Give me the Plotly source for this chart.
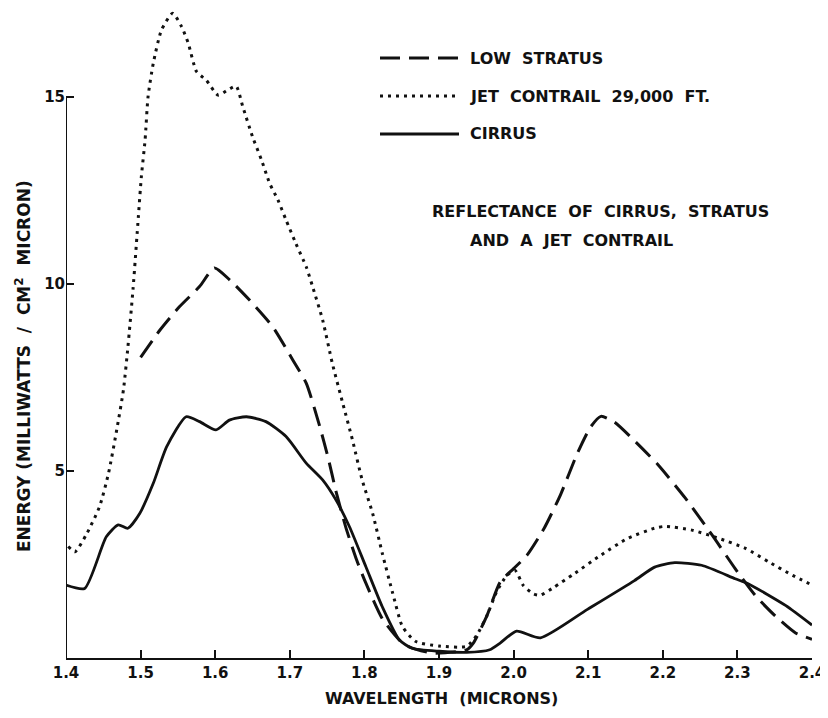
import plotly.graph_objects as go

# ---- data (wavelength in microns, energy in mW / cm^2 micron) ----
cirrus_x = [1.400, 1.425, 1.454, 1.470, 1.483, 1.499, 1.517, 1.535, 1.561, 1.579,
            1.601, 1.619, 1.642, 1.668, 1.695, 1.722, 1.744, 1.762, 1.780, 1.802,
            1.824, 1.847, 1.864, 1.900, 1.937, 1.968, 1.982, 2.004, 2.036, 2.099,
            2.162, 2.189, 2.216, 2.252, 2.297, 2.315, 2.365, 2.400]
cirrus_y = [1.95, 1.86, 3.24, 3.56, 3.47, 3.87, 4.67, 5.65, 6.45, 6.32,
            6.10, 6.36, 6.45, 6.32, 5.92, 5.21, 4.76, 4.22, 3.51, 2.44,
            1.37, 0.48, 0.26, 0.18, 0.15, 0.22, 0.40, 0.72, 0.54, 1.30,
            2.07, 2.43, 2.55, 2.48, 2.12, 1.98, 1.40, 0.88]

stratus_x = [1.500, 1.526, 1.552, 1.579, 1.599, 1.620, 1.646, 1.677, 1.704, 1.722,
             1.740, 1.752, 1.762, 1.775, 1.790, 1.802, 1.824, 1.847, 1.860, 1.892,
             1.937, 1.946, 1.964, 1.982, 2.000, 2.018, 2.041, 2.063, 2.085, 2.103,
             2.117, 2.135, 2.162, 2.193, 2.230, 2.266, 2.297, 2.324, 2.351, 2.378,
             2.400]
stratus_y = [8.04, 8.77, 9.39, 9.93, 10.43, 10.10, 9.57, 8.86, 7.97, 7.35,
             6.20, 5.30, 4.45, 3.50, 2.60, 2.00, 1.05, 0.48, 0.30, 0.13,
             0.22, 0.40, 1.12, 2.03, 2.39, 2.75, 3.47, 4.37, 5.45, 6.17,
             6.46, 6.31, 5.81, 5.18, 4.28, 3.29, 2.39, 1.67, 1.12, 0.67,
             0.50]

contrail_x = [1.403, 1.412, 1.428, 1.445, 1.457, 1.468, 1.477, 1.483, 1.490, 1.497,
              1.501, 1.506, 1.510, 1.517, 1.528, 1.543, 1.555, 1.564, 1.575, 1.588,
              1.604, 1.617, 1.628, 1.637, 1.650, 1.662, 1.673, 1.684, 1.695, 1.708,
              1.722, 1.731, 1.744, 1.757, 1.771, 1.784, 1.797, 1.811, 1.824, 1.838,
              1.851, 1.869, 1.900, 1.937, 1.950, 1.964, 1.977, 1.991, 2.002, 2.013,
              2.027, 2.036, 2.054, 2.081, 2.117, 2.153, 2.189, 2.203, 2.239, 2.275,
              2.311, 2.342, 2.374, 2.400]
contrail_y = [2.98, 2.84, 3.33, 4.05, 4.94, 6.10, 7.17, 8.32, 9.90, 11.80,
              12.87, 13.85, 15.01, 15.90, 16.79, 17.24, 16.88, 16.43, 15.68, 15.45,
              15.05, 15.19, 15.29, 14.74, 13.94, 13.32, 12.69, 12.25, 11.71, 11.09,
              10.46, 9.90, 9.04, 7.88, 6.81, 5.83, 4.76, 3.87, 2.80, 1.73,
              0.84, 0.44, 0.32, 0.31, 0.59, 1.12, 1.76, 2.21, 2.34, 1.94,
              1.71, 1.68, 1.89, 2.25, 2.75, 3.20, 3.47, 3.52, 3.42, 3.20,
              2.93, 2.57, 2.21, 1.95]

x_ticks = [1.4, 1.5, 1.6, 1.7, 1.8, 1.9, 2.0, 2.1, 2.2, 2.3, 2.4]
x_tick_labels = ["1.4", "1.5", "1.6", "1.7", "1.8", "1.9", "2.0", "2.1", "2.2", "2.3", "2.4"]
y_ticks = [5, 10, 15]
y_tick_labels = ["5", "10", "15"]

legend_names = ["LOW STRATUS", "JET CONTRAIL 29,000 FT.", "CIRRUS"]
title_lines = ["REFLECTANCE OF CIRRUS, STRATUS", "AND A JET CONTRAIL"]
x_title = "WAVELENGTH (MICRONS)"
y_title = "ENERGY (MILLIWATTS / CM<sup>2</sup> MICRON)"

# ---- styles ----
FONT = "DejaVu Sans"
INK = "#111111"
DASH = "20px,9px"
DOT = "3px,5px"


def wide(s):
    # wider word spacing like the hand-lettered original
    return "<b>" + s.replace(" ", "&nbsp;&nbsp;") + "</b>"


fig = go.Figure()
fig.add_trace(go.Scatter(x=stratus_x, y=stratus_y, mode="lines", name=legend_names[0],
                         line=dict(color=INK, width=3, dash=DASH, shape="spline", smoothing=0.6)))
fig.add_trace(go.Scatter(x=contrail_x, y=contrail_y, mode="lines", name=legend_names[1],
                         line=dict(color=INK, width=3, dash=DOT, shape="spline", smoothing=0.6)))
fig.add_trace(go.Scatter(x=cirrus_x, y=cirrus_y, mode="lines", name=legend_names[2],
                         line=dict(color=INK, width=2.8, shape="spline", smoothing=0.6)))

# page is rendered with the default 8px body margin -> compensate
OFF = 8
W, H = 828 - OFF, 718 - OFF
PAGE_L, PAGE_R, PAGE_BASE = 66, 812, 658   # page pixel positions of 1.4, 2.4 and y=0
ML = PAGE_L - OFF
MR = W - (PAGE_R - OFF)
MB = H - (PAGE_BASE - OFF)
MT = 2
plot_w = W - ML - MR
plot_h = H - MT - MB
y_top = plot_h / 37.4

fig.update_layout(
    width=W, height=H,
    margin=dict(l=ML, r=MR, t=MT, b=MB, autoexpand=False),
    paper_bgcolor="white", plot_bgcolor="white",
    showlegend=False,
    font=dict(family=FONT, color=INK),
    xaxis=dict(range=[1.4, 2.4], tickvals=x_ticks,
               ticktext=["<b>%s</b>" % t for t in x_tick_labels],
               ticks="inside", ticklen=8, tickwidth=1.5, tickcolor=INK,
               showline=True, linecolor=INK, linewidth=2, showgrid=False, zeroline=False,
               automargin=False,
               tickfont=dict(family=FONT, size=15, color=INK)),
    yaxis=dict(range=[0, y_top], tickvals=y_ticks,
               ticktext=["<b>%s</b>" % t for t in y_tick_labels],
               ticks="inside", ticklen=8, tickwidth=1.5, tickcolor=INK,
               showline=False, showgrid=False, zeroline=False,
               automargin=False,
               tickfont=dict(family=FONT, size=15, color=INK)),
)

# y axis line only from 0 to 15
fig.add_shape(type="line", xref="x", yref="y", x0=1.4, x1=1.4, y0=0, y1=15,
              line=dict(color=INK, width=2))


def px2paper_x(px):
    # px: page pixel
    return (px - OFF - ML) / plot_w


def py2paper_y(py):
    return (H - MB - (py - OFF)) / plot_h


# axis titles as annotations (positioned like the original)
fig.add_annotation(xref="paper", yref="paper", x=px2paper_x(441), y=py2paper_y(698),
                   text=wide(x_title), showarrow=False, xanchor="center", yanchor="middle",
                   font=dict(family=FONT, size=16, color=INK))
fig.add_annotation(xref="paper", yref="paper", x=px2paper_x(23), y=py2paper_y(366),
                   text=wide(y_title).replace("&nbsp;&nbsp;", "&nbsp;", 1), showarrow=False,
                   textangle=-90, xanchor="center", yanchor="middle",
                   font=dict(family=FONT, size=17, color=INK))

# legend drawn as shapes + annotations (paper coords)
leg_rows = [(58, DASH, 3), (96, DOT, 3), (134, None, 2.8)]
for (py, dash, wdt), name in zip(leg_rows, legend_names):
    ln = dict(color=INK, width=wdt)
    if dash:
        ln["dash"] = dash
    fig.add_shape(type="line", xref="paper", yref="paper",
                  x0=px2paper_x(380), x1=px2paper_x(459),
                  y0=py2paper_y(py), y1=py2paper_y(py), line=ln)
    fig.add_annotation(xref="paper", yref="paper", x=px2paper_x(468), y=py2paper_y(py),
                       text=wide(name), showarrow=False, xanchor="left", yanchor="middle",
                       font=dict(family=FONT, size=16, color=INK))

fig.add_annotation(xref="paper", yref="paper", x=px2paper_x(430), y=py2paper_y(211),
                   text=wide(title_lines[0]), showarrow=False, xanchor="left", yanchor="middle",
                   font=dict(family=FONT, size=16, color=INK))
fig.add_annotation(xref="paper", yref="paper", x=px2paper_x(468), y=py2paper_y(240),
                   text=wide(title_lines[1]), showarrow=False, xanchor="left", yanchor="middle",
                   font=dict(family=FONT, size=16, color=INK))

fig.write_html("out.html")
